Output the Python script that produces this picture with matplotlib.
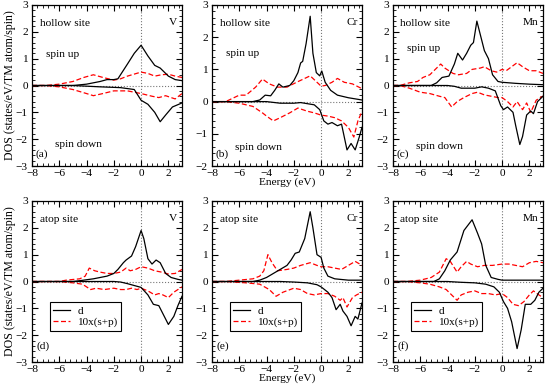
import matplotlib
matplotlib.use("Agg")
import matplotlib.pyplot as plt
from matplotlib.ticker import MultipleLocator

plt.rcParams["font.family"] = ["Liberation Serif", "DejaVu Serif"]

# ---- data: (energy, DOS) control points ----
# panel (a) hollow V
A_DU_X = [-8, -5, -4, -3, -2.5, -2, -1.7, -1, -0.5, 0, 0.5, 1, 1.4, 2, 2.5, 3]
A_DU_Y = [0, 0, 0.05, 0.15, 0.22, 0.22, 0.25, 0.8, 1.2, 1.5, 1.1, 0.75, 0.65, 0.35, 0.22, 0.18]
A_DD_X = [-8, -5, -3, -1.5, -0.5, 0, 0.5, 1, 1.4, 1.8, 2.3, 3]
A_DD_Y = [0, 0, -0.05, -0.08, -0.15, -0.55, -0.7, -1.0, -1.35, -1.1, -0.8, -0.65]
A_SU_X = [-8, -7, -6, -5, -4.2, -3.5, -2.8, -2, -1.5, -1, 0, 0.5, 1, 1.5, 2, 2.5, 3]
A_SU_Y = [0, 0, 0.05, 0.15, 0.3, 0.4, 0.3, 0.2, 0.25, 0.35, 0.5, 0.45, 0.35, 0.4, 0.42, 0.35, 0.3]
A_SD_X = [-8, -7, -6, -5, -4, -3.5, -2.8, -2, -1, -0.5, 0, 0.8, 1.3, 1.8, 2.2, 2.5, 3]
A_SD_Y = [0, 0, -0.05, -0.15, -0.3, -0.38, -0.3, -0.2, -0.2, -0.25, -0.3, -0.4, -0.45, -0.38, -0.45, -0.5, -0.3]

# panel (b) hollow Cr
B_DU_X = [-8, -5, -4.5, -4.1, -3.7, -3.4, -3.1, -2.8, -2.3, -2, -1.7, -1.5, -1.35, -1.1, -0.8,
          -0.6, -0.35, -0.1, 0.05, 0.3, 0.7, 1.2, 2, 3]
B_DU_Y = [0, 0, 0.05, 0.2, 0.18, 0.35, 0.55, 0.45, 0.5, 0.65, 0.9, 1.2, 1.25, 1.8, 2.65,
          1.5, 0.9, 0.8, 0.95, 0.6, 0.35, 0.2, 0.12, 0.05]
B_DD_X = [-8, -4, -3, -2, -1.5, -0.5, -0.1, 0.2, 0.5, 0.8, 1.2, 1.5, 1.9, 2.2, 2.5, 2.8, 3]
B_DD_Y = [0, 0, -0.05, -0.05, -0.03, -0.1, -0.25, -0.6, -0.7, -0.65, -0.75, -0.7, -1.5, -1.3,
          -1.5, -1.1, -0.8]
B_SU_X = [-8, -7, -6.5, -6, -5.5, -4.8, -4.3, -3.8, -3.2, -2.5, -1.8, -1.3, -0.8, -0.3, 0,
          0.3, 0.8, 1.2, 1.7, 2.3, 3]
B_SU_Y = [0, 0, 0.1, 0.2, 0.2, 0.45, 0.7, 0.55, 0.45, 0.45, 0.6, 0.7, 0.8, 0.6, 0.48,
          0.5, 0.6, 0.72, 0.6, 0.55, 0.4]
B_SD_X = [-8, -7, -6, -5, -4.3, -4, -3.5, -3, -2.3, -1.7, -1, -0.5, 0, 0.5, 1, 1.5, 2, 2.4, 2.7, 3]
B_SD_Y = [0, 0, -0.05, -0.15, -0.35, -0.45, -0.6, -0.5, -0.35, -0.2, -0.3, -0.35, -0.42,
          -0.45, -0.5, -0.6, -0.8, -1.1, -0.6, -0.3]

# panel (c) hollow Mn
C_DU_X = [-8, -5.2, -4.8, -4.4, -3.9, -3.5, -3.25, -2.9, -2.6, -2.3, -2.1, -1.85, -1.6, -1.3,
          -1.0, -0.7, -0.3, 0, 1, 2, 3]
C_DU_Y = [0, 0, 0.1, 0.3, 0.35, 0.8, 1.2, 0.95, 1.2, 1.5, 1.6, 2.4, 1.9, 1.3,
          1.0, 0.4, 0.15, 0.12, 0.08, 0.05, 0.03]
C_DD_X = [-8, -4, -3.5, -3, -2.5, -2, -1.5, -1, -0.5, -0.1, 0.1, 0.4, 0.8, 1, 1.3, 1.5, 1.8,
          2.1, 2.3, 2.6, 3]
C_DD_Y = [0, 0, -0.03, -0.1, -0.1, -0.1, -0.05, -0.1, -0.2, -0.75, -0.9, -0.8, -1.0, -1.5,
          -2.2, -1.9, -1.1, -0.95, -1.05, -0.6, -0.4]
C_SU_X = [-8, -7.5, -6.8, -6.2, -5.8, -5.3, -5, -4.5, -4.2, -3.6, -3.2, -2.6, -2.2, -1.6, -1.3,
          -0.8, -0.4, 0, 0.3, 0.7, 1.1, 1.5, 2, 2.5, 3]
C_SU_Y = [0, 0, 0.1, 0.15, 0.3, 0.4, 0.55, 0.8, 0.65, 0.45, 0.4, 0.45, 0.6, 0.65, 0.7,
          0.55, 0.5, 0.6, 0.55, 0.7, 0.85, 0.7, 0.55, 0.55, 0.45]
C_SD_X = [-8, -7.5, -6.8, -6, -5.3, -4.6, -4.2, -3.7, -3.3, -2.8, -2.2, -1.8, -1.3, -0.8, -0.3,
          0, 0.4, 0.8, 1.1, 1.5, 1.8, 2.1, 2.5, 2.8, 3]
C_SD_Y = [0, 0, -0.1, -0.25, -0.3, -0.4, -0.45, -0.8, -0.6, -0.45, -0.3, -0.25, -0.35, -0.4,
          -0.45, -0.45, -0.6, -0.8, -0.6, -0.9, -0.65, -1.0, -0.55, -0.45, -0.4]

# panel (d) atop V
D_DU_X = [-8, -5, -4.5, -3.5, -2.5, -2, -1.7, -1.3, -1.1, -0.7, -0.4, 0, 0.2, 0.5, 0.8, 1.1,
          1.4, 1.8, 2.2, 2.7, 3]
D_DU_Y = [0, 0, 0.03, 0.1, 0.2, 0.3, 0.45, 0.7, 0.8, 0.95, 1.3, 1.9, 1.6, 0.85, 0.65, 0.8,
          0.7, 0.3, 0.15, 0.08, 0.05]
D_DD_X = [-8, -2, -1.5, -1, -0.5, 0, 0.5, 0.9, 1.3, 1.7, 2, 2.4, 2.7, 3]
D_DD_Y = [0, 0, -0.02, -0.08, -0.15, -0.22, -0.5, -0.85, -0.9, -1.3, -1.6, -1.3, -0.9, -0.55]
D_SU_X = [-8, -6, -5.5, -4.5, -4.1, -3.8, -3.4, -3, -2.5, -2, -1.5, -1.1, -0.8, -0.4, 0, 0.5,
          1, 1.5, 2, 2.5, 3]
D_SU_Y = [0, 0, 0.05, 0.1, 0.2, 0.5, 0.4, 0.35, 0.3, 0.3, 0.35, 0.5, 0.4, 0.45, 0.55, 0.5,
          0.4, 0.35, 0.28, 0.3, 0.45]
D_SD_X = [-8, -6, -5, -4.3, -4, -3.7, -3.3, -2.7, -2, -1.5, -1.1, -0.7, -0.3, 0, 0.5, 1, 1.3,
          1.6, 2, 2.4, 3]
D_SD_Y = [0, 0, -0.05, -0.1, -0.2, -0.3, -0.25, -0.3, -0.25, -0.3, -0.3, -0.25, -0.3, -0.25,
          -0.35, -0.5, -0.45, -0.5, -0.6, -0.4, -0.2]

# panel (e) atop Cr
E_DU_X = [-8, -5, -4.5, -4, -3.5, -3, -2.5, -2.2, -1.9, -1.6, -1.2, -0.8, -0.6, -0.3, 0, 0.2,
          0.5, 1, 2, 3]
E_DU_Y = [0, 0, 0.05, 0.15, 0.3, 0.45, 0.6, 0.8, 1.05, 1.1, 1.6, 2.6, 2.0, 1.0, 0.9, 0.5,
          0.2, 0.1, 0.05, 0.05]
E_DD_X = [-8, -3, -2, -1, -0.3, 0, 0.5, 0.8, 1.1, 1.4, 1.6, 1.9, 2.2, 2.5, 2.7, 3]
E_DD_Y = [0, 0, -0.02, -0.05, -0.12, -0.2, -0.4, -0.6, -1.05, -0.85, -1.1, -1.3, -1.65, -1.3,
          -1.4, -0.8]
E_SU_X = [-8, -7, -6, -5, -4.5, -4.2, -3.9, -3.6, -3.2, -2.5, -2, -1.5, -0.8, -0.3, 0, 0.5, 1,
          1.5, 2, 2.5, 3]
E_SU_Y = [0, 0, 0.05, 0.1, 0.2, 0.4, 1.0, 0.7, 0.4, 0.45, 0.5, 0.6, 0.7, 0.6, 0.55, 0.55, 0.5,
          0.45, 0.6, 0.75, 0.6]
E_SD_X = [-8, -7, -5.5, -4.5, -3.8, -3.3, -2.8, -2, -1.5, -1, -0.5, 0, 0.5, 1, 1.4, 1.6, 1.9,
          2.3, 2.6, 3]
E_SD_Y = [0, 0, -0.05, -0.1, -0.3, -0.55, -0.4, -0.25, -0.3, -0.45, -0.5, -0.45, -0.45, -0.55,
          -0.7, -0.6, -0.95, -0.6, -0.5, -0.4]

# panel (f) atop Mn
F_DU_X = [-8, -5, -4.6, -4.2, -3.8, -3.3, -2.8, -2.5, -2.2, -1.8, -1.5, -1.2, -0.8, -0.3, 0, 3]
F_DU_Y = [0, 0, 0.1, 0.4, 0.8, 1.1, 1.9, 2.1, 2.3, 1.8, 1.4, 0.6, 0.15, 0.08, 0.05, 0.05]
F_DD_X = [-8, -4, -3, -2, -1.2, -0.6, -0.2, 0.1, 0.4, 0.7, 1.1, 1.4, 1.7, 2.1, 2.4, 2.7, 3]
F_DD_Y = [0, 0, -0.03, -0.05, -0.1, -0.2, -0.4, -0.75, -1.0, -1.5, -2.5, -1.8, -0.85, -0.85,
          -0.7, -0.4, -0.25]
F_SU_X = [-8, -7, -6, -5.2, -4.6, -4.1, -3.8, -3.3, -3, -2.6, -2.3, -1.8, -1.3, -0.7, 0, 0.5,
          1, 1.5, 2, 2.5, 3]
F_SU_Y = [0, 0, 0.05, 0.15, 0.35, 0.85, 0.75, 0.35, 0.55, 0.75, 0.65, 0.55, 0.6, 0.6, 0.65,
          0.65, 0.6, 0.55, 0.7, 0.75, 0.7]
F_SD_X = [-8, -7, -6, -5.3, -4.6, -4.1, -3.7, -3.3, -3, -2.5, -2, -1.5, -1, -0.5, 0, 0.4, 0.8,
          1.2, 1.6, 2, 2.3, 2.7, 3]
F_SD_Y = [0, 0, -0.05, -0.1, -0.2, -0.3, -0.5, -0.7, -0.5, -0.4, -0.35, -0.45, -0.45, -0.5,
          -0.45, -0.6, -0.85, -0.9, -0.75, -0.5, -0.35, -0.5, -0.6]

PANELS = [
    ("(a)", "V", "hollow site", (-3, 3), A_DU_X, A_DU_Y, A_DD_X, A_DD_Y, A_SU_X, A_SU_Y, A_SD_X, A_SD_Y),
    ("(b)", "Cr", "hollow site", (-2, 3), B_DU_X, B_DU_Y, B_DD_X, B_DD_Y, B_SU_X, B_SU_Y, B_SD_X, B_SD_Y),
    ("(c)", "Mn", "hollow site", (-3, 3), C_DU_X, C_DU_Y, C_DD_X, C_DD_Y, C_SU_X, C_SU_Y, C_SD_X, C_SD_Y),
    ("(d)", "V", "atop site", (-3, 3), D_DU_X, D_DU_Y, D_DD_X, D_DD_Y, D_SU_X, D_SU_Y, D_SD_X, D_SD_Y),
    ("(e)", "Cr", "atop site", (-3, 3), E_DU_X, E_DU_Y, E_DD_X, E_DD_Y, E_SU_X, E_SU_Y, E_SD_X, E_SD_Y),
    ("(f)", "Mn", "atop site", (-3, 3), F_DU_X, F_DU_Y, F_DD_X, F_DD_Y, F_SU_X, F_SU_Y, F_SD_X, F_SD_Y),
]

# spin up / spin down label heights (axes fraction) for top row
SPIN_UP_Y = [0.695, 0.70, 0.73]
SPIN_DN_Y = [0.133, 0.118, 0.12]

fig = plt.figure(figsize=(5.45, 3.89), dpi=100)
lefts = [32 / 545, 212 / 545, 393 / 545]
width = 150 / 545
bottoms = [1 - 166 / 389, 1 - 362 / 389]
height = 161 / 389

RED = "#ff0000"
FS = 8.2

for i, (tag, elem, site, ylim, dux, duy, ddx, ddy, sux, suy, sdx, sdy) in enumerate(PANELS):
    row, col = divmod(i, 3)
    ax = fig.add_axes([lefts[col], bottoms[row], width, height])

    ax.axvline(0, color="#777777", ls=":", lw=0.8, zorder=1)
    ax.axhline(0, color="#777777", ls=":", lw=0.8, zorder=1)
    ax.plot(dux, duy, color="black", lw=0.9, label="d", zorder=3)
    ax.plot(ddx, ddy, color="black", lw=0.9, zorder=3)
    ax.plot(sux, suy, color=RED, lw=0.9, ls=(0, (4, 2)), label="10x(s+p)", zorder=2)
    ax.plot(sdx, sdy, color=RED, lw=0.9, ls=(0, (4, 2)), zorder=2)

    ax.set_xlim(-8, 3)
    ax.set_ylim(*ylim)
    ax.xaxis.set_major_locator(MultipleLocator(2))
    ax.xaxis.set_minor_locator(MultipleLocator(0.4))
    ax.yaxis.set_major_locator(MultipleLocator(1))
    ax.yaxis.set_minor_locator(MultipleLocator(0.2))
    ax.tick_params(which="both", direction="in", top=True, right=True, labelsize=8.2)
    ax.tick_params(axis="x", pad=2.5)
    ax.tick_params(axis="y", pad=3)
    ax.tick_params(which="major", length=4, width=0.8)
    ax.tick_params(which="minor", length=2, width=0.6)
    for s in ax.spines.values():
        s.set_linewidth(0.9)

    ax.text(0.05, 0.885, site, transform=ax.transAxes, fontsize=FS, va="center", ha="left")
    ax.text(0.97, 0.89, elem, transform=ax.transAxes, fontsize=FS, va="center", ha="right")
    if row == 0:
        ax.text(0.095, SPIN_UP_Y[col], "spin up", transform=ax.transAxes, fontsize=FS, va="center")
        ax.text(0.155, SPIN_DN_Y[col], "spin down", transform=ax.transAxes, fontsize=FS, va="center")
        ax.text(0.025, 0.075, tag, transform=ax.transAxes, fontsize=FS, va="center")
    else:
        ax.text(0.03, 0.1, tag, transform=ax.transAxes, fontsize=FS, va="center")
        leg = ax.legend(loc="upper left", bbox_to_anchor=(0.12, 0.37), fontsize=8,
                        fancybox=False, framealpha=1, edgecolor="black",
                        handlelength=1.5, handletextpad=0.7, borderpad=0.3,
                        labelspacing=0.15, borderaxespad=0)
        leg.get_frame().set_linewidth(0.8)

    if col == 0:
        ax.set_ylabel("DOS (states/eV/TM atom/spin)", fontsize=8.6, labelpad=0)
    if col == 1:
        ax.set_xlabel("Energy (eV)", fontsize=8.2, labelpad=-0.5)

fig.savefig("out.png", dpi=100)
